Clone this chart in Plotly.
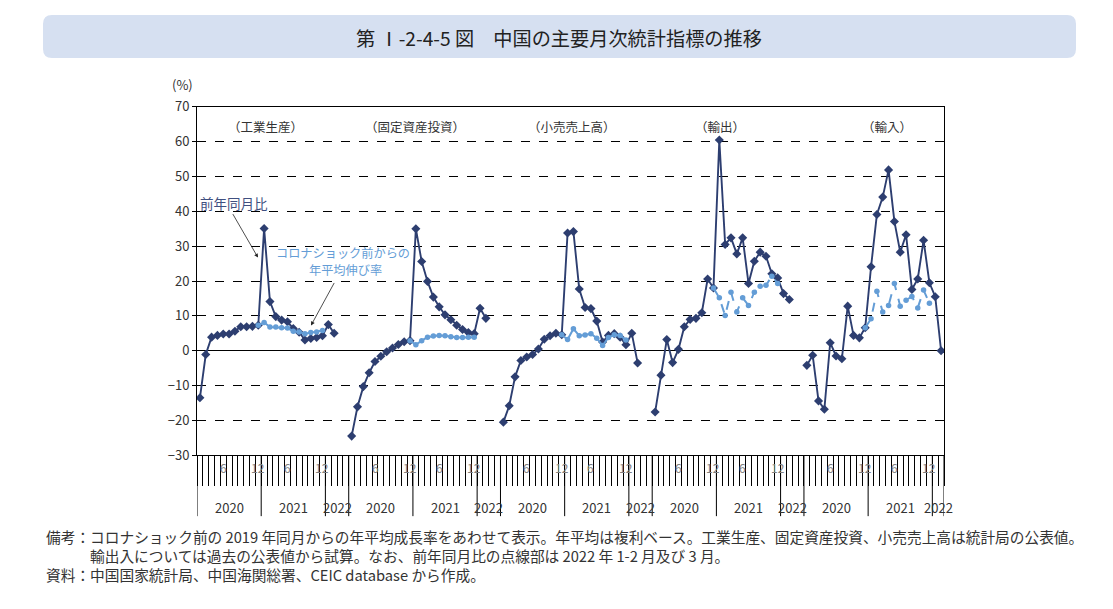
import plotly.graph_objects as go

W, H = 1113, 609
# the page shows the figure shifted and a little shorter; map reference pixels onto paper
OX, OY, RH = 8, 18, 591
FONT = "Noto Sans CJK JP"
NAVY = "#2d3e70"
LIGHT = "#649dd6"

# x categories: Jan-Feb combined -> 11 slots per year, 2022 has 1-2 and 3
months = ["1-2", "3", "4", "5", "6", "7", "8", "9", "10", "11", "12"]
months_2022 = ["1-2", "3"]
shown_months = ["6", "12"]
years = ["2020", "2021", "2022"]
spacer = 2  # empty slots after 2022 in every panel except the last

panels = ["（工業生産）", "（固定資産投資）", "（小売売上高）", "（輸出）", "（輸入）"]

# 前年同月比 2020/1-2 .. 2022/3
ip_yoy = [-13.5, -1.1, 3.9, 4.4, 4.8, 4.8, 5.6, 6.9, 6.9, 7.0, 7.3,
          35.1, 14.1, 9.8, 8.8, 8.3, 6.4, 5.3, 3.1, 3.5, 3.8, 4.3,
          7.5, 5.0]
fai_yoy = [-24.5, -16.1, -10.3, -6.3, -3.1, -1.6, -0.3, 0.8, 1.8, 2.6, 2.9,
           35.0, 25.6, 19.9, 15.4, 12.6, 10.3, 8.9, 7.3, 6.1, 5.2, 4.9,
           12.2, 9.3]
retail_yoy = [-20.5, -15.8, -7.5, -2.8, -1.8, -1.1, 0.5, 3.3, 4.3, 5.0, 4.6,
              33.8, 34.2, 17.7, 12.4, 12.1, 8.5, 2.5, 4.4, 4.9, 3.9, 1.7,
              5.0, -3.5]
export_yoy = [-17.6, -7.0, 3.2, -3.4, 0.4, 6.9, 9.0, 9.3, 10.9, 20.6, 18.0,
              60.5, 30.5, 32.4, 27.8, 32.4, 19.3, 25.7, 28.3, 27.1, 22.1, 20.9,
              16.4, 14.7]
import_yoy = [-4.2, -1.3, -14.4, -16.8, 2.3, -1.5, -2.3, 12.8, 4.4, 3.7, 6.6,
              24.1, 39.1, 44.1, 51.9, 37.1, 28.3, 33.3, 17.6, 20.6, 31.7, 19.5,
              15.5, 0.0]

# コロナショック前からの年平均伸び率 2020/12 .. 2021/12
ip_avg = [7.3, 8.1, 6.8, 6.8, 6.6, 6.5, 5.6, 5.4, 4.9, 5.2, 5.4, 5.8]
fai_avg = [2.9, 1.7, 2.9, 3.9, 4.2, 4.4, 4.3, 4.0, 3.8, 3.8, 3.9, 3.9]
retail_avg = [4.6, 3.2, 6.3, 4.3, 4.5, 4.9, 3.6, 1.5, 3.8, 4.6, 4.4, 3.1]
export_avg = [18.0, 15.2, 10.1, 16.8, 11.1, 15.2, 13.0, 16.8, 18.5, 18.8, 21.4, 19.3]
import_avg = [6.6, 9.2, 17.1, 11.1, 13.0, 19.3, 12.8, 14.5, 15.6, 12.3, 17.4, 13.6]

yoy_series = [ip_yoy, fai_yoy, retail_yoy, export_yoy, import_yoy]
avg_series = [ip_avg, fai_avg, retail_avg, export_avg, import_avg]
avg_dashed = [False, False, False, True, True]

yticks = [70, 60, 50, 40, 30, 20, 10, 0, -10, -20, -30]


def X(px):
    return (px - OX) / W


def Y(py):
    return 1 - (py - OY) / RH


# slot offsets of each panel and the year spans
offsets, spans, boundaries = [], [], []
pos = 0
for p in range(len(panels)):
    offsets.append(pos)
    for yr in years:
        n = len(months) if yr != "2022" else len(months_2022) + (spacer if p < len(panels) - 1 else 0)
        spans.append((yr, pos, pos + n))
        boundaries.append(pos)
        pos += n
boundaries.append(pos)
n_slots = pos

fig = go.Figure()

for p in range(len(panels)):
    off = offsets[p]
    yoy = yoy_series[p]
    xs = [off + i + 0.5 for i in range(len(yoy))]
    fig.add_trace(go.Scatter(
        x=xs, y=yoy, mode="lines+markers",
        line=dict(color=NAVY, width=1.9),
        marker=dict(symbol="diamond", size=7, color=NAVY),
        showlegend=False, hoverinfo="skip"
    ))
for p in range(len(panels)):
    off = offsets[p] + len(months) - 1
    avg = avg_series[p]
    xs = [off + i + 0.5 for i in range(len(avg))]
    fig.add_trace(go.Scatter(
        x=xs, y=avg, mode="lines+markers",
        line=dict(color=LIGHT, width=2, dash="dash" if avg_dashed[p] else "solid"),
        marker=dict(symbol="circle", size=5.5, color=LIGHT),
        showlegend=False, hoverinfo="skip"
    ))

shapes = []
# title box
x0, x1, y0, y1, r = 43, 1076, 15, 58, 9
path = (f"M {X(x0+r)},{Y(y0)} L {X(x1-r)},{Y(y0)} Q {X(x1)},{Y(y0)} {X(x1)},{Y(y0+r)} "
        f"L {X(x1)},{Y(y1-r)} Q {X(x1)},{Y(y1)} {X(x1-r)},{Y(y1)} "
        f"L {X(x0+r)},{Y(y1)} Q {X(x0)},{Y(y1)} {X(x0)},{Y(y1-r)} "
        f"L {X(x0)},{Y(y0+r)} Q {X(x0)},{Y(y0)} {X(x0+r)},{Y(y0)} Z")
shapes.append(dict(type="path", path=path, xref="paper", yref="paper",
                   fillcolor="#d6e0f1", line=dict(width=0), layer="below"))
# long year dividers below the axis
for b in boundaries:
    shapes.append(dict(type="line", xref="x", yref="paper", x0=b, x1=b,
                       y0=Y(456), y1=Y(517), line=dict(color="black", width=1)))


def label(text, x, y, size, color="#333", xref="paper", **kw):
    return dict(text=text, xref=xref, yref="paper", x=x, y=y, showarrow=False,
                xanchor=kw.pop("xanchor", "center"), yanchor="middle",
                font=dict(size=size, color=color), **kw)


annotations = []
annotations.append(label("第 Ⅰ-2-4-5 図　中国の主要月次統計指標の推移", X(559), Y(38), 19.2, "#222"))
annotations.append(label("(%)", X(182), Y(85), 13))
label_pos = [11.7, 11.4, 12.2, 11.6, 14.3]
for p, name in enumerate(panels):
    annotations.append(label(name, offsets[p] + label_pos[p], Y(127), 12.5, xref="x"))
# month and year labels
for yr, a, b in spans:
    annotations.append(label(yr, (a + b) / 2, Y(508), 13, xref="x"))
    if yr != "2022":
        for i, m in enumerate(months):
            if m in shown_months:
                annotations.append(label(m, a + i + 0.5, Y(468), 12, "#808080", xref="x"))

# callouts
annotations.append(label("前年同月比", X(234), Y(203), 13.5, "#3f4f80"))
annotations.append(dict(text="", xref="paper", yref="paper", x=X(258), y=Y(258),
                        ax=-26, ay=-45, showarrow=True, arrowhead=2, arrowsize=1,
                        arrowwidth=0.8, arrowcolor="#222"))
annotations.append(label("コロナショック前からの", X(343), Y(253.5), 12.2, LIGHT, borderpad=0))
annotations.append(label("年平均伸び率", X(345), Y(270.5), 12.2, LIGHT, borderpad=0))
annotations.append(dict(text="", xref="paper", yref="paper", x=X(311), y=Y(326),
                        ax=24, ay=-44, showarrow=True, arrowhead=2, arrowsize=1,
                        arrowwidth=0.8, arrowcolor="#222"))

# notes
notes = [
    (44, 537, "備考：コロナショック前の 2019 年同月からの年平均成長率をあわせて表示。年平均は複利ベース。工業生産、固定資産投資、小売売上高は統計局の公表値。"),
    (88, 556, "輸出入については過去の公表値から試算。なお、前年同月比の点線部は 2022 年 1-2 月及び 3 月。"),
    (44, 575, "資料：中国国家統計局、中国海関総署、CEIC database から作成。"),
]
for nx, ny, t in notes:
    annotations.append(label(t, X(nx), Y(ny), 14.7, xanchor="left"))

fig.update_layout(
    width=W, height=H,
    margin=dict(l=0, r=0, t=0, b=0),
    paper_bgcolor="white", plot_bgcolor="white",
    font=dict(family=FONT, color="#333"),
    shapes=shapes, annotations=annotations,
    xaxis=dict(domain=[X(197), X(944)], range=[0, n_slots],
               tickmode="array", tickvals=list(range(n_slots + 1)),
               ticks="outside", ticklen=30, tickwidth=1, tickcolor="black",
               showticklabels=False, showgrid=False, zeroline=False,
               showline=True, linecolor="black", linewidth=1, mirror=True),
    yaxis=dict(domain=[Y(456), Y(107)], range=[-30, 70],
               tickmode="array", tickvals=yticks,
               ticks="outside", ticklen=4, tickcolor="black",
               tickfont=dict(size=13, color="#333"),
               showgrid=True, gridcolor="black", gridwidth=1, griddash="dash",
               zeroline=True, zerolinecolor="black", zerolinewidth=1,
               showline=True, linecolor="black", linewidth=1, mirror=True),
)

fig.write_html("out.html")
